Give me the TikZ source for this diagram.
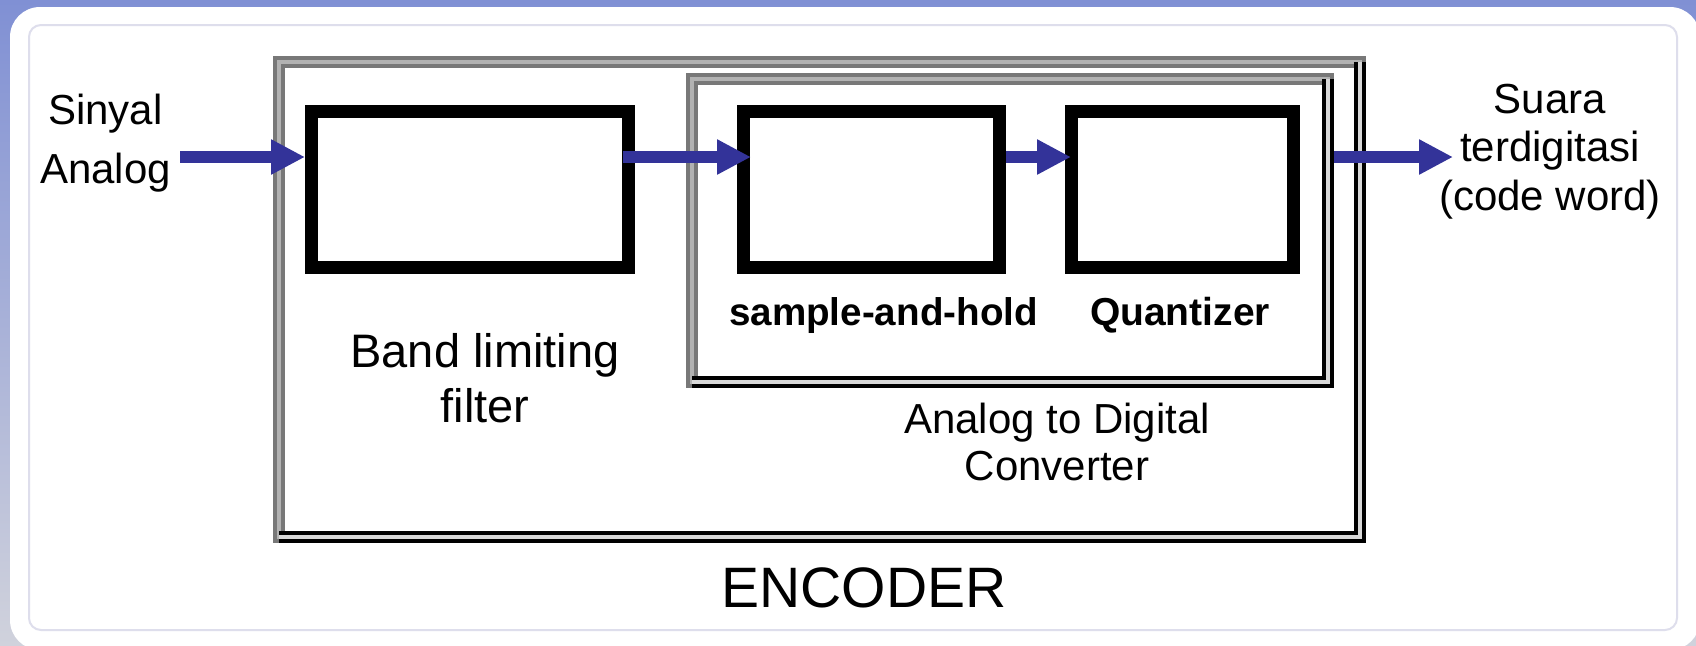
\documentclass[tikz,border=0pt]{standalone}
\usepackage{fontspec}
\setmainfont{Liberation Sans}
\usetikzlibrary{arrows.meta, positioning}
\definecolor{arrowblue}{RGB}{51,51,153}
\definecolor{panelline}{RGB}{222,222,236}
\definecolor{bgtop}{RGB}{128,144,212}
\definecolor{bgbottom}{RGB}{208,210,220}
\definecolor{framedark}{RGB}{120,120,120}
\definecolor{framelight}{RGB}{178,178,178}
\definecolor{shadelight}{RGB}{216,216,216}
\tikzstyle{block} = [rectangle, minimum height=78pt, draw=black, line width=6.5pt]
\tikzstyle{bevelframe} = [rectangle, outer sep=0pt, draw=framedark, double=framelight, line width=2pt, double distance=2pt]
\tikzstyle{frameshade} = [draw=black, double=shadelight, line width=2pt, double distance=2pt]
\tikzstyle{arrow} = [line width=6pt, draw=arrowblue, -{Triangle[length=17pt, width=16.5pt]}]
\tikzstyle{txt} = [font=\fontsize{21pt}{29.5pt}\selectfont, align=center, anchor=base, inner sep=4.5pt]

\begin{document}
\begin{tikzpicture}[x=0.5pt, y=-0.5pt]
% background and panel
\useasboundingbox (0,0) rectangle (1696,645);
\fill [top color=bgtop, bottom color=bgbottom] (0,0) rectangle (1696,645);
\fill [white, rounded corners=15pt] (10,7) rectangle (1700,650);
\draw [panelline, line width=1pt, rounded corners=6pt] (29,25) rectangle (1677,630);

% frames
\node (enc) [bevelframe, minimum width=540.5pt, minimum height=237.5pt] at (819.5,299.5) {};
\draw [frameshade] (enc.north east) |- (enc.south west);
\node (adc) [bevelframe, minimum width=318pt, minimum height=151.5pt] at (1010,230.5) {};
\draw [frameshade] (adc.north east) |- (adc.south west);

% blocks
\node (filt) [block, minimum width=158.5pt] at (470,189.5) {};
\node (sah) [block, minimum width=128pt, right=51pt of filt] {};
\node (quant) [block, minimum width=111pt, right=29.5pt of sah] {};

% texts (base = last line)
\node (sig) [txt] at (105.5,183) {Sinyal\\Analog};
\node (out) [txt, font=\fontsize{21pt}{24.25pt}\selectfont] at (1550,210) {Suara\\terdigitasi\\(code word)};
\node (filtlbl) [txt, font=\fontsize{23.5pt}{27.5pt}\selectfont] at (485,422) {Band limiting\\filter};
\node (sahlbl) [txt, font=\bfseries\fontsize{19.3pt}{23pt}\selectfont] at (883.5,325) {sample-and-hold};
\node (quantlbl) [txt, font=\bfseries\fontsize{19.5pt}{23pt}\selectfont] at (1180,325) {Quantizer};
\node (adclbl) [txt, font=\fontsize{21pt}{23.5pt}\selectfont] at (1057,480) {Analog to Digital\\Converter};
\node (enclbl) [txt, font=\fontsize{28.5pt}{34pt}\selectfont] at (864,607) {ENCODER};

% arrows
\coordinate (lvl) at (0,157);
\coordinate (outtip) at (1453,157);
\draw [arrow] (sig.east |- lvl) -- (filt.west |- lvl);
\draw [arrow, shorten <=-6pt, shorten >=-7pt] (filt.east |- lvl) -- (sah.west |- lvl);
\draw [arrow, shorten >=-3pt] (sah.east |- lvl) -- (quant.west |- lvl);
\draw [arrow, shorten <=3pt] (adc.east |- lvl) -- (outtip);
\end{tikzpicture}
\end{document}
